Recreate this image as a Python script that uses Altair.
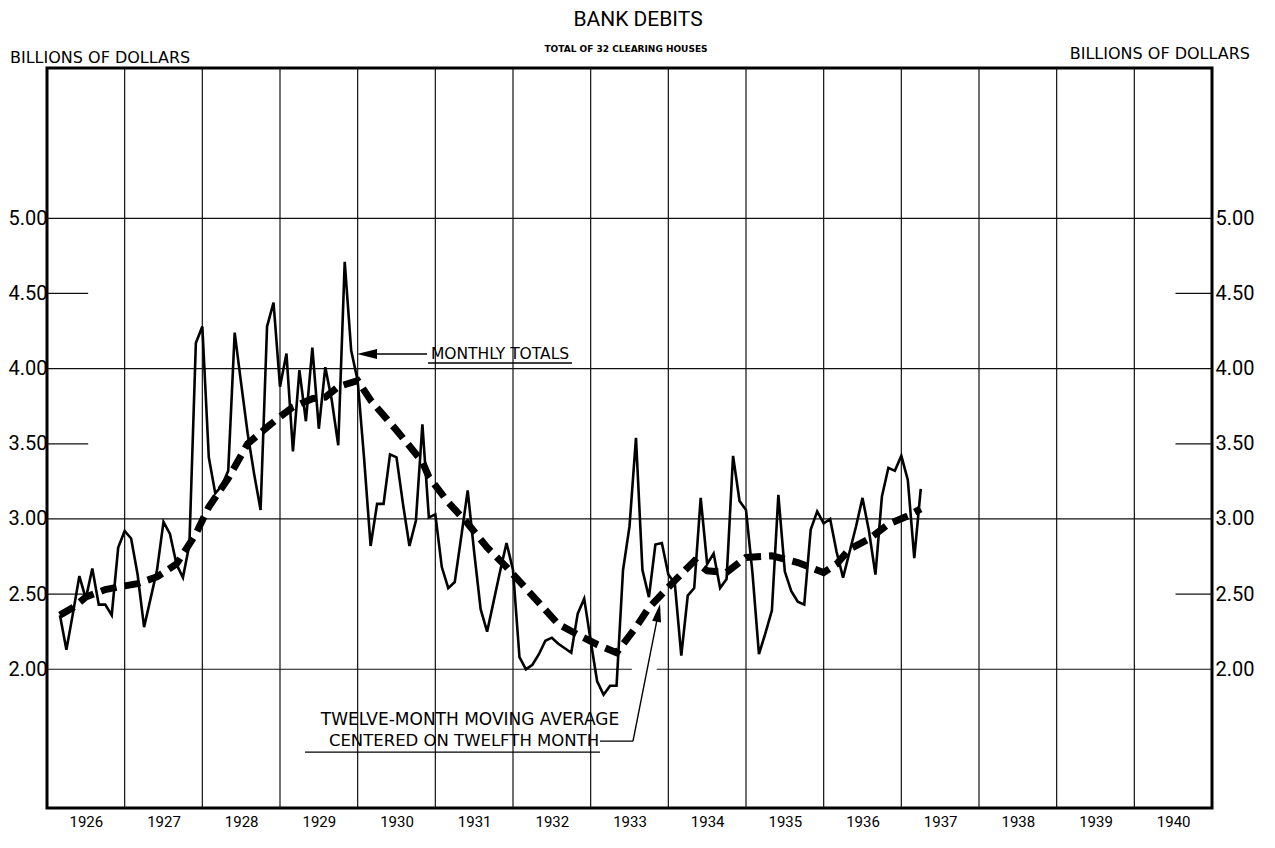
import altair as alt
import pandas as pd

# ---------------- data ----------------
# Monthly totals, billions of dollars (1926 starts in February, 1937 ends in March)
m1926 = [2.36, 2.13, 2.37, 2.62, 2.47, 2.67, 2.43, 2.43, 2.36, 2.81, 2.92]
m1927 = [2.87, 2.63, 2.28, 2.47, 2.66, 2.98, 2.90, 2.70, 2.61, 2.83, 4.17, 4.28]
m1928 = [3.41, 3.17, 3.22, 3.32, 4.24, 3.90, 3.57, 3.30, 3.06, 4.28, 4.44, 3.88]
m1929 = [4.10, 3.45, 3.99, 3.65, 4.14, 3.60, 4.01, 3.79, 3.49, 4.71, 4.12, 3.92]
m1930 = [3.40, 2.82, 3.10, 3.10, 3.43, 3.41, 3.10, 2.82, 2.99, 3.63, 3.01, 3.03]
m1931 = [2.68, 2.54, 2.58, 2.88, 3.19, 2.78, 2.40, 2.25, 2.45, 2.65, 2.84, 2.66]
m1932 = [2.08, 2.00, 2.03, 2.10, 2.19, 2.21, 2.17, 2.14, 2.11, 2.37, 2.47, 2.19]
m1933 = [1.92, 1.83, 1.89, 1.89, 2.66, 2.95, 3.54, 2.66, 2.48, 2.83, 2.84, 2.63]
m1934 = [2.57, 2.09, 2.49, 2.54, 3.14, 2.70, 2.77, 2.54, 2.60, 3.42, 3.12, 3.06]
m1935 = [2.64, 2.10, 2.24, 2.39, 3.16, 2.65, 2.52, 2.45, 2.43, 2.93, 3.05, 2.97]
m1936 = [3.00, 2.78, 2.61, 2.78, 2.95, 3.14, 2.92, 2.63, 3.15, 3.34, 3.32, 3.42]
m1937 = [3.26, 2.74, 3.20]
monthly_years = [1926, 1927, 1928, 1929, 1930, 1931, 1932, 1933, 1934, 1935, 1936, 1937]
monthly_series = [m1926, m1927, m1928, m1929, m1930, m1931, m1932, m1933, m1934,
                  m1935, m1936, m1937]
monthly_first_month = [2, 1, 1, 1, 1, 1, 1, 1, 1, 1, 1, 1]

# Twelve-month moving average (readings along the dashed line)
ma_year = [1926, 1926, 1926, 1926, 1926, 1927, 1927, 1927, 1927, 1928, 1928, 1928,
           1928, 1928, 1929, 1929, 1929, 1929, 1929, 1930, 1930, 1930, 1930, 1931,
           1931, 1931, 1931, 1932, 1932, 1932, 1933, 1933, 1933, 1933, 1934, 1934,
           1934, 1934, 1934, 1935, 1935, 1935, 1936, 1936, 1936, 1936, 1937, 1937]
ma_month = [2, 4, 6, 9, 12, 2, 5, 8, 11, 1, 4, 7,
            10, 12, 2, 5, 7, 9, 12, 2, 6, 10, 11, 2,
            5, 8, 11, 3, 7, 10, 1, 4, 7, 9, 1, 4,
            6, 9, 12, 4, 8, 12, 2, 4, 7, 10, 1, 3]
ma_value = [2.36, 2.41, 2.48, 2.53, 2.555, 2.57, 2.615, 2.70, 2.90, 3.08, 3.27, 3.50,
            3.61, 3.68, 3.745, 3.80, 3.81, 3.88, 3.92, 3.79, 3.59, 3.38, 3.28, 3.11,
            2.97, 2.81, 2.68, 2.49, 2.30, 2.23, 2.165, 2.11, 2.28, 2.41, 2.59, 2.72,
            2.655, 2.645, 2.744, 2.755, 2.71, 2.643, 2.70, 2.80, 2.866, 2.966, 3.02, 3.067]

year_labels = [1926, 1927, 1928, 1929, 1930, 1931, 1932, 1933, 1934, 1935, 1936,
               1937, 1938, 1939, 1940]
y_tick_labels = [2.00, 2.50, 3.00, 3.50, 4.00, 4.50, 5.00]

# ---------------- tables ----------------
rows = []
for yr, fm, vals in zip(monthly_years, monthly_first_month, monthly_series):
    for i, v in enumerate(vals):
        rows.append({"t": yr + (fm + i) / 12.0, "v": v})
mdf = pd.DataFrame(rows)
madf = pd.DataFrame({"t": [y + m / 12.0 for y, m in zip(ma_year, ma_month)],
                     "v": ma_value})

X0, X1 = 1926, 1941
vgrid_df = pd.DataFrame({"t": list(range(X0 + 1, X1))})
hrows = []
for v in [5.0, 4.0, 3.0]:
    hrows.append({"x": X0, "x2": X1, "v": v})
hrows.append({"x": X0, "x2": 1933.53, "v": 2.0})
hrows.append({"x": 1933.85, "x2": X1, "v": 2.0})
for v in [4.5, 3.5, 2.5]:
    hrows.append({"x": X0, "x2": X0 + 0.53, "v": v})
    hrows.append({"x": X1 - 0.47, "x2": X1, "v": v})
hdf = pd.DataFrame(hrows)

W, H = 1165, 740
xs = alt.Scale(domain=[X0, X1], nice=False, zero=False)
ys = alt.Scale(domain=[1.077, 6.0], nice=False, zero=False)

NUMF = "Roboto"
TXTF = "DejaVu Sans"
INK = "#111111"

vgrid = alt.Chart(vgrid_df).mark_rule(color=INK, strokeWidth=1.2).encode(
    x=alt.X("t:Q", scale=xs, axis=None), y=alt.value(0), y2=alt.value(H))

hgrid = alt.Chart(hdf).mark_rule(color=INK, strokeWidth=1.2).encode(
    x=alt.X("x:Q", scale=xs, axis=None), x2="x2:Q",
    y=alt.Y("v:Q", scale=ys, axis=None))

monthly_line = alt.Chart(mdf).mark_line(
    color="black", strokeWidth=2.6, strokeJoin="miter").encode(
    x=alt.X("t:Q", scale=xs, title=None,
            axis=alt.Axis(values=[y + 0.5 for y in year_labels],
                          labelExpr="'' + floor(datum.value)",
                          domain=False, ticks=False, grid=False,
                          labelFont=NUMF, labelFontSize=15, labelColor="black",
                          labelPadding=6)),
    y=alt.Y("v:Q", scale=ys, title=None,
            axis=alt.Axis(orient="left", values=y_tick_labels, format=".2f",
                          domain=False, ticks=False, grid=False,
                          labelFont=NUMF, labelFontSize=20, labelColor="black",
                          labelPadding=0)),
    order="t:Q")

ma_line = alt.Chart(madf).mark_line(
    color="black", strokeWidth=7, strokeDash=[16, 8], strokeCap="butt").encode(
    x=alt.X("t:Q", scale=xs, axis=None),
    y=alt.Y("v:Q", scale=ys, title=None,
            axis=alt.Axis(orient="right", values=y_tick_labels, format=".2f",
                          domain=False, ticks=False, grid=False,
                          labelFont=NUMF, labelFontSize=20, labelColor="black",
                          labelPadding=3)),
    order="t:Q")

one = pd.DataFrame({"a": [0]})


def ptext(label, x, y, size, font=TXTF, align="center", weight="normal"):
    return alt.Chart(one).mark_text(
        text=label, font=font, fontSize=size, align=align, baseline="middle",
        fontWeight=weight, color="black").encode(x=alt.value(x), y=alt.value(y))


def dtext(label, t, v, size):
    return alt.Chart(pd.DataFrame({"t": [t], "v": [v]})).mark_text(
        text=label, font=TXTF, fontSize=size, align="center", baseline="middle",
        color="black").encode(x=alt.X("t:Q", scale=xs, axis=None),
                              y=alt.Y("v:Q", scale=ys, axis=None))


def seg(t1, t2, v1, v2, w=1.4):
    return alt.Chart(pd.DataFrame({"t": [t1], "t2": [t2], "v": [v1], "v2": [v2]})).mark_rule(
        color="black", strokeWidth=w).encode(
        x=alt.X("t:Q", scale=xs, axis=None), x2="t2:Q",
        y=alt.Y("v:Q", scale=ys, axis=None), y2="v2:Q")


def arrowhead(t, v, shape, size, angle=0):
    return alt.Chart(pd.DataFrame({"t": [t], "v": [v]})).mark_point(
        shape=shape, filled=True, size=size, angle=angle, color="black",
        opacity=1, strokeWidth=0).encode(
        x=alt.X("t:Q", scale=xs, axis=None), y=alt.Y("v:Q", scale=ys, axis=None))


titles = [
    ptext("BANK DEBITS", 591, -48, 21, font=NUMF),
    ptext("TOTAL OF 32 CLEARING HOUSES", 579, -19, 9, weight="bold"),
    ptext("BILLIONS OF DOLLARS", -37, -10, 16, align="left"),
    ptext("BILLIONS OF DOLLARS", 1203, -14, 16, align="right"),
]

annotations = [
    dtext("MONTHLY TOTALS", 1931.833, 4.097, 15.5),
    seg(1930.906, 1932.760, 4.037, 4.037),
    seg(1930.184, 1930.893, 4.097, 4.097),
    arrowhead(1930.120, 4.097, "M -1 0 L 1 -0.5 L 1 0.5 Z", 400),
    dtext("TWELVE-MONTH MOVING AVERAGE", 1931.446, 1.662, 17),
    dtext("CENTERED ON TWELFTH MONTH", 1931.369, 1.522, 16.5),
    seg(1929.322, 1933.120, 1.449, 1.449),
    seg(1933.120, 1933.545, 1.522, 1.522),
    seg(1933.545, 1933.871, 1.522, 2.374),
    arrowhead(1933.871, 2.375, "M 0 -1 L 0.5 1 L -0.5 1 Z", 324, angle=11),
]

chart = alt.layer(
    vgrid, hgrid, monthly_line, ma_line, *annotations, *titles
).resolve_axis(x="independent", y="independent").properties(
    width=W, height=H,
    autosize=alt.AutoSizeParams(type="none"),
    padding={"left": 39, "top": 60, "right": 52, "bottom": 24},
    background="white",
).configure_view(stroke="black", strokeWidth=3)

chart.save("out.html", embed_options={"renderer": "svg", "actions": False})
